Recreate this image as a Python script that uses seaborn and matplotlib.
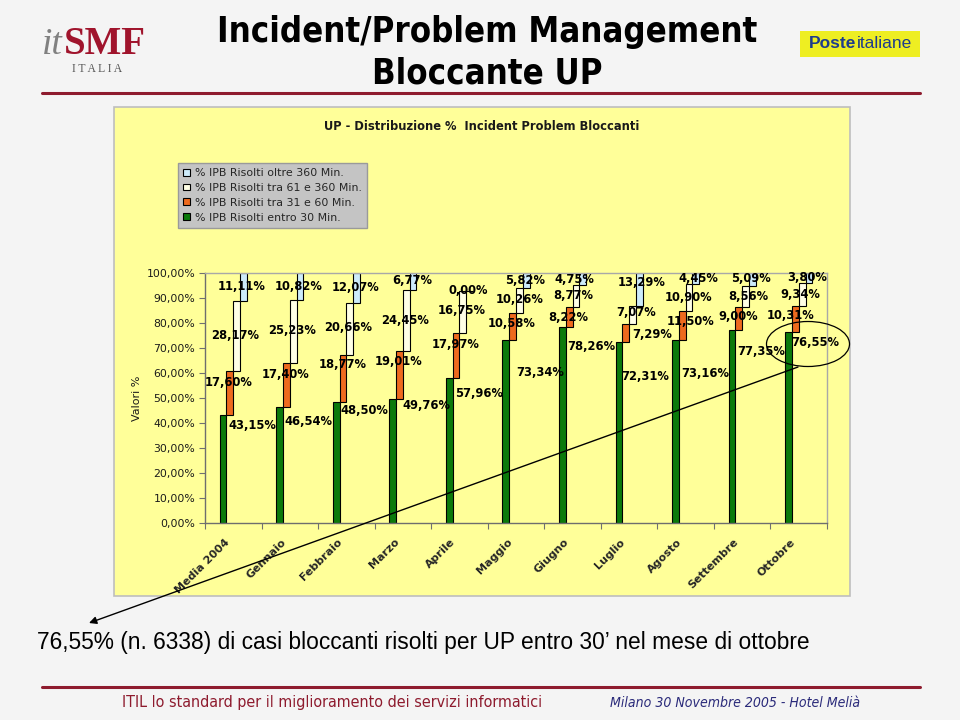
import numpy as np
import pandas as pd
import matplotlib
matplotlib.use("Agg")
import matplotlib.pyplot as plt
import seaborn as sns
from matplotlib import font_manager as fm
from matplotlib.patches import Rectangle, Ellipse, FancyArrowPatch, Patch
from matplotlib.lines import Line2D
from matplotlib.ticker import FuncFormatter
from matplotlib.transforms import ScaledTranslation

# ---------------- data ----------------
categories = ["Media 2004", "Gennaio", "Febbraio", "Marzo", "Aprile", "Maggio",
              "Giugno", "Luglio", "Agosto", "Settembre", "Ottobre"]
entro_30 = [43.15, 46.54, 48.50, 49.76, 57.96, 73.34, 78.26, 72.31, 73.16, 77.35, 76.55]
tra_31_60 = [17.60, 17.40, 18.77, 19.01, 17.97, 10.58, 8.22, 7.29, 11.50, 9.00, 10.31]
tra_61_360 = [28.17, 25.23, 20.66, 24.45, 16.75, 10.26, 8.77, 7.07, 10.90, 8.56, 9.34]
oltre_360 = [11.11, 10.82, 12.07, 6.77, 0.00, 5.82, 4.75, 13.29, 4.45, 5.09, 3.80]
series_labels = ["% IPB Risolti entro 30 Min.", "% IPB Risolti tra 31 e 60 Min.",
                 "% IPB Risolti tra 61 e 360 Min.", "% IPB Risolti oltre 360 Min."]
y_ticks = [0, 10, 20, 30, 40, 50, 60, 70, 80, 90, 100]

# ---------------- layout (label placement, not data) ----------------
lab_dx = [
    [0.34, 0.33, 0.31, 0.42, 0.35, 0.42, 0.34, 0.28, 0.34, 0.33, 0.29],
    [-0.08, -0.08, -0.07, -0.07, -0.06, -0.08, -0.08, 0.40, 0.09, -0.07, -0.14],
    [0.03, 0.04, 0.03, 0.04, 0.04, 0.06, 0.02, 0.13, 0.05, 0.11, 0.03],
    [0.15, 0.15, 0.16, 0.16, 0.16, 0.16, 0.04, 0.22, 0.22, 0.15, 0.14],
]
lab_y = [
    [39.1, 40.7, 45.0, 46.9, 51.7, 60.1, 70.4, 58.8, 59.7, 68.6, 72.4],
    [56.1, 59.4, 63.2, 64.5, 71.5, 79.8, 82.2, 75.5, 80.6, 82.6, 82.9],
    [75.1, 76.8, 78.2, 81.1, 84.9, 89.3, 90.9, 84.2, 90.2, 90.6, 91.6],
    [94.5, 94.8, 94.3, 97.2, 93.2, 97.2, 97.5, 96.3, 98.0, 98.0, 98.3],
]
colors = ["#0B7A0B", "#EE6A1E", "#FFFFE6", "#CDEBFA"]

W, H = 960, 720
def fx(px): return px / W
def fy(py): return 1 - py / H


def pick_narrow(weight="normal", style="normal"):
    for fam, stretch in [("Liberation Sans Narrow", "normal"),
                         ("DejaVu Sans", "condensed"),
                         ("DejaVu Sans Condensed", "normal")]:
        try:
            fp = fm.FontProperties(family=fam, stretch=stretch, weight=weight, style=style)
            path = fm.findfont(fp, fallback_to_default=False)
            if "Narrow" in path or "Condensed" in path:
                return [fam, "DejaVu Sans"], stretch
        except Exception:
            pass
    return ["Liberation Sans", "DejaVu Sans"], "normal"


sns.set_style("ticks")
plt.rcParams["font.family"] = ["DejaVu Sans"]

fig = plt.figure(figsize=(9.6, 7.2), dpi=100)
fig.patch.set_facecolor("#F4F4F4")
renderer = fig.canvas.get_renderer()


def fit_width(t, target):
    w = t.get_window_extent(renderer).width
    if w > 0:
        t.set_fontsize(t.get_fontsize() * target / w)
    return t


# chart area (pale yellow)
fig.add_artist(Rectangle((fx(114), fy(596)), fx(850) - fx(114), fy(107) - fy(596),
                         transform=fig.transFigure, facecolor="#FFFF99",
                         edgecolor="#BEBEBE", linewidth=1.2, zorder=0))

ax = fig.add_axes([fx(205), fy(523), fx(827) - fx(205), fy(273) - fy(523)])
ax.set_facecolor("none")

series = [entro_30, tra_31_60, tra_61_360, oltre_360]
idx = np.arange(len(categories))
bw = 0.12
bottom = np.zeros(len(categories))
for k, vals in enumerate(series):
    off = (k - 1.5) * bw
    sns.barplot(x=idx + off, y=np.array(vals), native_scale=True, width=bw,
                bottom=bottom.copy(), color=colors[k], saturation=1,
                edgecolor="black", linewidth=0.8, errorbar=None, ax=ax)
    bottom = bottom + np.array(vals)

# value labels
for k, vals in enumerate(series):
    for i, v in enumerate(vals):
        ax.text(i + lab_dx[k][i], lab_y[k][i], f"{v:.2f}%".replace(".", ","),
                ha="center", va="center", fontsize=8.3, fontweight="bold",
                color="black", clip_on=False, zorder=5)

ax.set_xlim(-0.5, len(categories) - 0.5)
ax.set_ylim(0, 100)
ax.set_yticks(y_ticks)
ax.yaxis.set_major_formatter(FuncFormatter(lambda v, p: f"{v:.2f}%".replace(".", ",")))
ax.set_xticks(idx)
ax.set_xticklabels(categories, rotation=45, ha="right", rotation_mode="anchor",
                   fontsize=8, fontweight="bold")
ax.set_xticks(np.arange(-0.5, len(categories), 1), minor=True)
ax.tick_params(axis="x", which="major", length=0, pad=10)
ax.tick_params(axis="x", which="minor", length=4, width=0.8, color="#707070", direction="out")
ax.tick_params(axis="y", length=4, width=0.8, color="#707070", labelsize=7.8,
               labelcolor="#1A1A1A", pad=3)
shift = ScaledTranslation(-9 / 100, 0, fig.dpi_scale_trans)
for lbl in ax.get_xticklabels():
    lbl.set_transform(lbl.get_transform() + shift)
ax.set_xlabel("")
ax.set_ylabel("Valori %", fontsize=8, color="#1A1A1A", labelpad=3)
for s in ["left", "bottom"]:
    ax.spines[s].set_color("#6E6E6E")
    ax.spines[s].set_linewidth(1.0)
for s in ["top", "right"]:
    ax.spines[s].set_visible(True)
    ax.spines[s].set_color("#A8A8A8")
    ax.spines[s].set_linewidth(1.0)

# legend
handles = [Patch(facecolor=colors[k], edgecolor="black", linewidth=0.8,
                 label=series_labels[k]) for k in [3, 2, 1, 0]]
leg = fig.legend(handles=handles, loc="upper left", bbox_to_anchor=(fx(178), fy(163)),
                 bbox_transform=fig.transFigure, frameon=True, fancybox=False,
                 fontsize=7.9, handlelength=0.6, handleheight=0.6, handletextpad=0.5,
                 borderpad=0.45, labelspacing=0.45, borderaxespad=0)
leg.get_frame().set_facecolor("#C4C4C4")
leg.get_frame().set_edgecolor("#9A9A9A")
leg.get_frame().set_linewidth(1.0)
leg.get_frame().set_alpha(1)

# chart title
t = fig.text(fx(482), fy(127), "UP - Distribuzione %  Incident Problem Bloccanti",
             ha="center", va="center", fontsize=7.3, fontweight="bold", color="#1A1A1A")
fit_width(t, 316)

# ellipse + arrow
fig.add_artist(Ellipse((fx(808), fy(344)), 83 / W, 45 / H, transform=fig.transFigure,
                       fill=False, edgecolor="black", linewidth=0.9, zorder=6))
fig.add_artist(FancyArrowPatch((fx(798), fy(367)), (fx(89), fy(623)),
                               transform=fig.transFigure, arrowstyle="-|>",
                               mutation_scale=11, color="black", linewidth=1.0,
                               shrinkA=0, shrinkB=0, zorder=6))

# slide decorations
nb_fam, nb_str = pick_narrow(weight="bold")
t1 = fig.text(fx(487), fy(32), "Incident/Problem Management", ha="center", va="center",
              fontsize=26, fontweight="bold", family=nb_fam, fontstretch=nb_str, color="black")
fit_width(t1, 540)
fig.text(fx(487), fy(73), "Bloccante UP", ha="center", va="center",
         fontsize=t1.get_fontsize(), fontweight="bold", family=nb_fam,
         fontstretch=nb_str, color="black")
fig.add_artist(Line2D([fx(42), fx(920)], [fy(93), fy(93)], transform=fig.transFigure,
                      color="#8E1B2E", linewidth=2.2))
fig.add_artist(Line2D([fx(42), fx(920)], [fy(687), fy(687)], transform=fig.transFigure,
                      color="#8E1B2E", linewidth=2.2))

serif = ["Liberation Serif", "DejaVu Serif"]
t_it = fig.text(fx(42), fy(54), "it", ha="left", va="baseline", fontsize=27,
                family=serif, style="italic", color="#808080")
bb = t_it.get_window_extent(renderer)
fig.text((bb.x1 + 1) / W, fy(54), "SMF", ha="left", va="baseline", fontsize=28,
         family=serif, fontweight="bold", color="#A0142C")
ti = fig.text(fx(97), fy(69), "I T A L I A", ha="center", va="center", fontsize=5.5,
              family=serif, color="#555555")
fit_width(ti, 50)

fig.add_artist(Rectangle((fx(800), fy(57)), fx(920) - fx(800), fy(31) - fy(57),
                         transform=fig.transFigure, facecolor="#EEEE22", edgecolor="none"))
sans = ["Liberation Sans", "DejaVu Sans"]
t_p = fig.text(fx(809), fy(44), "Poste", ha="left", va="center", fontsize=12.5,
               fontweight="bold", family=sans, color="#1E3C8C")
bb = t_p.get_window_extent(renderer)
fig.text((bb.x1 + 1) / W, fy(44), "italiane", ha="left", va="center", fontsize=12.5,
         family=sans, color="#1E3C8C")

ts = fig.text(fx(37), fy(643),
              "76,55% (n. 6338) di casi bloccanti risolti per UP entro 30\u2019 nel mese di ottobre",
              ha="left", va="center", fontsize=16, family=sans, color="black")
fit_width(ts, 771)

nr_fam, nr_str = pick_narrow()
tf = fig.text(fx(332), fy(703), "ITIL lo standard per il miglioramento dei servizi informatici",
              ha="center", va="center", fontsize=12, family=nr_fam, fontstretch=nr_str,
              color="#8E1B2E")
fit_width(tf, 420)
ni_fam, ni_str = pick_narrow(style="italic")
tm = fig.text(fx(735), fy(703), "Milano 30 Novembre 2005 - Hotel Meli\u00e0",
              ha="center", va="center", fontsize=10, family=ni_fam, fontstretch=ni_str,
              style="italic", color="#2A2A7A")
fit_width(tm, 250)

fig.savefig("out.png", dpi=100, facecolor=fig.get_facecolor())
